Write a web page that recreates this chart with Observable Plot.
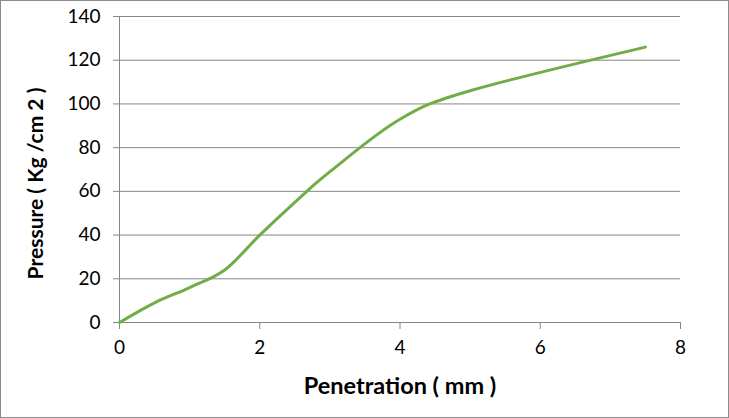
<!DOCTYPE html>
<html>
<head>
<meta charset="utf-8">
<script src="https://cdn.jsdelivr.net/npm/d3@7"></script>
<script src="https://cdn.jsdelivr.net/npm/@observablehq/plot@0.6"></script>
<style>
  body { margin: 0; background: #fff; }
  #chart svg { display: block; outline: 1px solid #8c8c8c; outline-offset: -1px; }
  #chart svg g[aria-label="x-axis label"] text { font-size: 23.5px; font-weight: bold; }
  #chart svg g[aria-label="y-axis label"] text { font-size: 21px; font-weight: bold; }
</style>
</head>
<body>
<div id="chart"></div>
<script>
const penetration = [0, 0.5, 1, 1.5, 2, 2.5, 3, 4, 5, 7.5];
const pressure    = [0, 9, 16, 24, 40, 55, 69, 93, 106, 126];
const xTicks = [0, 2, 4, 6, 8];
const yTicks = [0, 20, 40, 60, 80, 100, 120, 140];
const xTitle = "Penetration ( mm )";
const yTitle = "Pressure ( Kg /cm 2 )";

const data = penetration.map((p, i) => ({p, v: pressure[i]}));

const chart = Plot.plot({
  width: 729,
  height: 418,
  marginLeft: 119,
  marginRight: 49,
  marginTop: 16,
  marginBottom: 96,
  style: {fontFamily: "Lato, 'Open Sans', sans-serif", fontSize: "19px", color: "#000", background: "#fff"},
  x: {domain: [0, 8]},
  y: {domain: [0, 140]},
  marks: [
    Plot.ruleY(yTicks, {y: d => d, x1: 0, x2: 8, stroke: "#868686", strokeOpacity: 1, strokeWidth: 1}),
    Plot.ruleX([0], {stroke: "#868686", strokeWidth: 1}),
    Plot.axisY({ticks: yTicks, tickSize: 6, tickPadding: 13, stroke: "#868686", strokeOpacity: 1,
      label: yTitle, labelAnchor: "center", labelArrow: "none", labelOffset: 91}),
    Plot.axisX({ticks: xTicks, tickSize: 7, tickPadding: 11, stroke: "#868686", strokeOpacity: 1,
      label: xTitle, labelAnchor: "center", labelArrow: "none", labelOffset: 71}),
    Plot.line(data, {x: "p", y: "v", stroke: "#70ad47", strokeWidth: 3, curve: "cardinal", tension: 0})
  ]
});
d3.select(chart).select('g[aria-label="y-axis label"] text').attr("dx", -14);
document.getElementById("chart").append(chart);
</script>
</body>
</html>
